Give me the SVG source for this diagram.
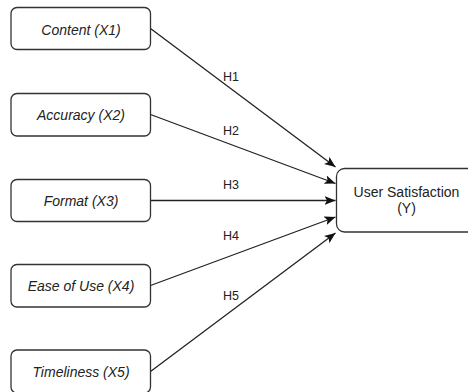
<svg xmlns="http://www.w3.org/2000/svg" width="468" height="392" viewBox="0 0 468 392">
<defs>
<style>
.box{fill:#fff;stroke:#333;stroke-width:1.3}
.lbl{font-family:"Liberation Sans",Arial,sans-serif;font-size:14px;fill:#222;text-anchor:middle}
.it{font-style:italic}
.h{font-family:"Liberation Sans",Arial,sans-serif;font-size:12.5px;fill:#222}
.edge{fill:none;stroke:#222;stroke-width:1.3}
</style>
<marker id="arr" markerUnits="userSpaceOnUse" markerWidth="12" markerHeight="10" refX="11" refY="4.5" orient="auto" viewBox="0 0 12 9">
<path d="M0,0 L11,4.5 L0,9 L2.5,4.5 z" fill="#111"/>
</marker>
</defs>
<rect width="468" height="392" fill="#fff"/>
<g id="edges">
<line class="edge" x1="150.5" y1="28.5" x2="335.5" y2="167" marker-end="url(#arr)"/>
<line class="edge" x1="150.5" y1="114.5" x2="335.5" y2="183.5" marker-end="url(#arr)"/>
<line class="edge" x1="150.5" y1="200.5" x2="335.5" y2="200.5" marker-end="url(#arr)"/>
<line class="edge" x1="150.5" y1="285.5" x2="335.5" y2="217" marker-end="url(#arr)"/>
<line class="edge" x1="150.5" y1="371.5" x2="335.5" y2="233" marker-end="url(#arr)"/>
<text class="h" x="223" y="81">H1</text>
<text class="h" x="223" y="135">H2</text>
<text class="h" x="223" y="189">H3</text>
<text class="h" x="223" y="240">H4</text>
<text class="h" x="223" y="300">H5</text>
</g>
<g id="x1">
<rect class="box" x="11" y="7.5" width="139.5" height="42" rx="6"/>
<text class="lbl it" x="81" y="34.5">Content (X1)</text>
</g>
<g id="x2">
<rect class="box" x="11" y="93.5" width="139.5" height="42.5" rx="6"/>
<text class="lbl it" x="81" y="120">Accuracy (X2)</text>
</g>
<g id="x3">
<rect class="box" x="11" y="179.5" width="139.5" height="42" rx="6"/>
<text class="lbl it" x="81" y="205.5">Format (X3)</text>
</g>
<g id="x4">
<rect class="box" x="11" y="264.5" width="139.5" height="42.5" rx="6"/>
<text class="lbl it" x="81" y="291">Ease of Use (X4)</text>
</g>
<g id="x5">
<rect class="box" x="11" y="350" width="139.5" height="43" rx="6"/>
<text class="lbl it" x="81" y="376.5">Timeliness (X5)</text>
</g>
<g id="y">
<rect class="box" x="336.5" y="168.5" width="140" height="63.5" rx="8"/>
<text class="lbl" x="406.5" y="197">User Satisfaction</text>
<text class="lbl" x="406.5" y="213">(Y)</text>
</g>
</svg>
